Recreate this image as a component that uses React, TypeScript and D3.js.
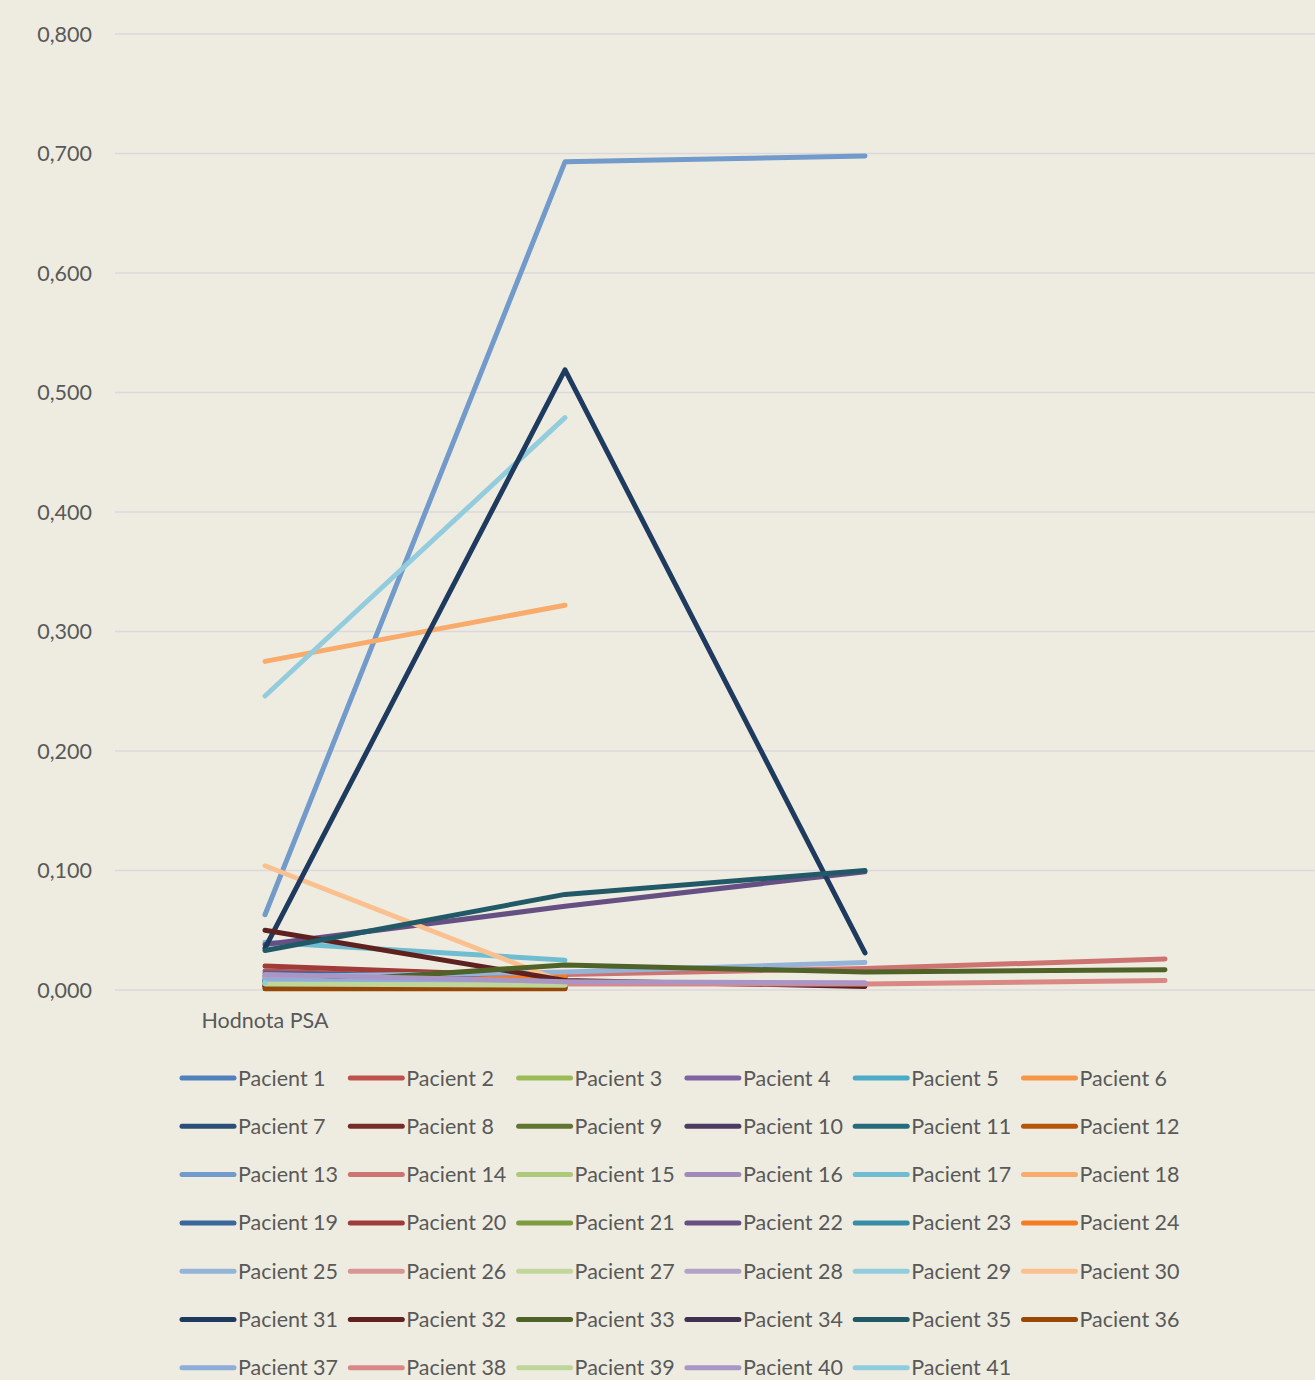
import React, { useEffect, useRef } from 'react';
import * as d3 from 'd3';

// x categories (only the first one carries a label in the source chart)
const categories = ['Hodnota PSA', '', '', ''];

const seriesNames = d3.range(1, 42).map(i => `Pacient ${i}`);

const seriesColors = [
  '#4F81BD', '#C0504D', '#9BBB59', '#8064A2', '#4BACC6', '#F79646',
  '#2C4D75', '#772C2A', '#5F7530', '#4D3B62', '#276A7C', '#B65708',
  '#729ACA', '#CD7371', '#AFC97A', '#9F8AB8', '#6FBDD1', '#F9AB6B',
  '#3A679C', '#9F3B38', '#7E9D40', '#664F83', '#358EA6', '#F47D24',
  '#95B3D7', '#D99694', '#C3D69B', '#B3A2C7', '#93CDDD', '#FAC090',
  '#1F3A5F', '#5E2120', '#4F6228', '#3F3151', '#215967', '#974806',
  '#8EADD8', '#D98886', '#BFD69A', '#A996C5', '#8ECCDE'
];

// PSA values per patient, one entry per category (null = no measurement)
const seriesValues: (number | null)[][] = [
  [0.011, 0.007, null, null],
  [0.016, 0.008, null, null],
  [0.004, 0.004, null, null],
  [0.012, 0.006, null, null],
  [0.009, null, null, null],
  [0.003, 0.002, null, null],
  [0.008, 0.005, null, null],
  [0.006, 0.004, null, null],
  [0.005, 0.003, null, null],
  [0.004, 0.003, null, null],
  [0.007, null, null, null],
  [0.002, 0.002, null, null],
  [0.063, 0.693, 0.698, null],
  [null, 0.013, 0.018, 0.026],
  [0.005, null, null, null],
  [0.010, 0.007, null, null],
  [0.040, 0.025, null, null],
  [0.275, 0.322, null, null],
  [0.014, 0.010, null, null],
  [0.020, 0.011, null, null],
  [0.006, 0.005, null, null],
  [0.038, 0.070, 0.099, null],
  [0.008, null, null, null],
  [0.003, 0.012, null, null],
  [0.011, 0.015, 0.023, null],
  [0.004, 0.003, null, null],
  [0.005, 0.004, null, null],
  [0.010, 0.006, null, null],
  [0.246, 0.479, null, null],
  [0.104, 0.006, null, null],
  [0.035, 0.519, 0.031, null],
  [0.050, 0.008, 0.003, null],
  [0.004, 0.021, 0.015, 0.017],
  [0.003, 0.002, null, null],
  [0.033, 0.080, 0.100, null],
  [0.001, 0.001, null, null],
  [0.008, 0.006, null, null],
  [null, 0.005, 0.005, 0.008],
  [0.005, 0.004, null, null],
  [0.013, 0.007, 0.006, null],
  [0.006, null, null, null]
];

const yTicks = [0, 0.1, 0.2, 0.3, 0.4, 0.5, 0.6, 0.7, 0.8];

const W = 1315;
const H = 1380;
const FONT = 'Lato, "Open Sans", sans-serif';
const TEXT = '#595959';
const FS = '21.5px';

export default function App() {
  const svgRef = useRef<SVGSVGElement>(null);

  useEffect(() => {
    if (!svgRef.current) return;
    const svg = d3.select(svgRef.current);
    svg.selectAll('*').remove();

    const plot = { left: 115, right: 1315, top: 34, bottom: 990 };

    const x = d3.scaleBand<number>()
      .domain(d3.range(categories.length))
      .range([plot.left, plot.right]);
    const cx = (i: number) => (x(i) as number) + x.bandwidth() / 2;

    const y = d3.scaleLinear().domain([0, 0.8]).range([plot.bottom, plot.top]);
    const fmt = (v: number) => d3.format('.3f')(v).replace('.', ',');

    svg.append('rect').attr('width', W).attr('height', H).attr('fill', '#EEECE1');

    // gridlines
    svg.append('g')
      .selectAll('line')
      .data(yTicks)
      .enter()
      .append('line')
      .attr('x1', plot.left)
      .attr('x2', plot.right)
      .attr('y1', d => y(d))
      .attr('y2', d => y(d))
      .attr('stroke', '#DBD8DC')
      .attr('stroke-width', 1.5);

    // y labels
    svg.append('g')
      .selectAll('text')
      .data(yTicks)
      .enter()
      .append('text')
      .attr('x', 92)
      .attr('y', d => y(d))
      .attr('dy', '0.35em')
      .attr('text-anchor', 'end')
      .attr('fill', TEXT)
      .style('font-family', FONT)
      .style('font-size', FS)
      .text(d => fmt(d));

    // x labels
    svg.append('g')
      .selectAll('text')
      .data(categories)
      .enter()
      .append('text')
      .attr('x', (_, i) => cx(i))
      .attr('y', 1028)
      .attr('text-anchor', 'middle')
      .attr('fill', TEXT)
      .style('font-family', FONT)
      .style('font-size', FS)
      .text(d => d);

    // series lines
    const line = d3.line<number | null>()
      .defined(d => d !== null)
      .x((_, i) => cx(i))
      .y(d => y(d as number));

    svg.append('g')
      .selectAll('path')
      .data(seriesValues)
      .enter()
      .append('path')
      .attr('d', d => line(d))
      .attr('fill', 'none')
      .attr('stroke', (_, i) => seriesColors[i])
      .attr('stroke-width', 5)
      .attr('stroke-linecap', 'round')
      .attr('stroke-linejoin', 'round');

    // legend
    const cols = 6;
    const legend = svg.append('g');
    const item = legend.selectAll('g')
      .data(seriesNames)
      .enter()
      .append('g')
      .attr('transform', (_, i) => `translate(${182 + (i % cols) * 168.3},${1078 + Math.floor(i / cols) * 48.3})`);

    item.append('line')
      .attr('x1', 0)
      .attr('x2', 52)
      .attr('stroke', (_, i) => seriesColors[i])
      .attr('stroke-width', 5)
      .attr('stroke-linecap', 'round');

    item.append('text')
      .attr('x', 56)
      .attr('dy', '0.35em')
      .attr('fill', TEXT)
      .style('font-family', FONT)
      .style('font-size', FS)
      .text(d => d);
  }, []);

  return (
    <div style={{ position: 'absolute', left: 0, top: 0 }}>
      <svg ref={svgRef} width={W} height={H} style={{ display: 'block' }} />
    </div>
  );
}
